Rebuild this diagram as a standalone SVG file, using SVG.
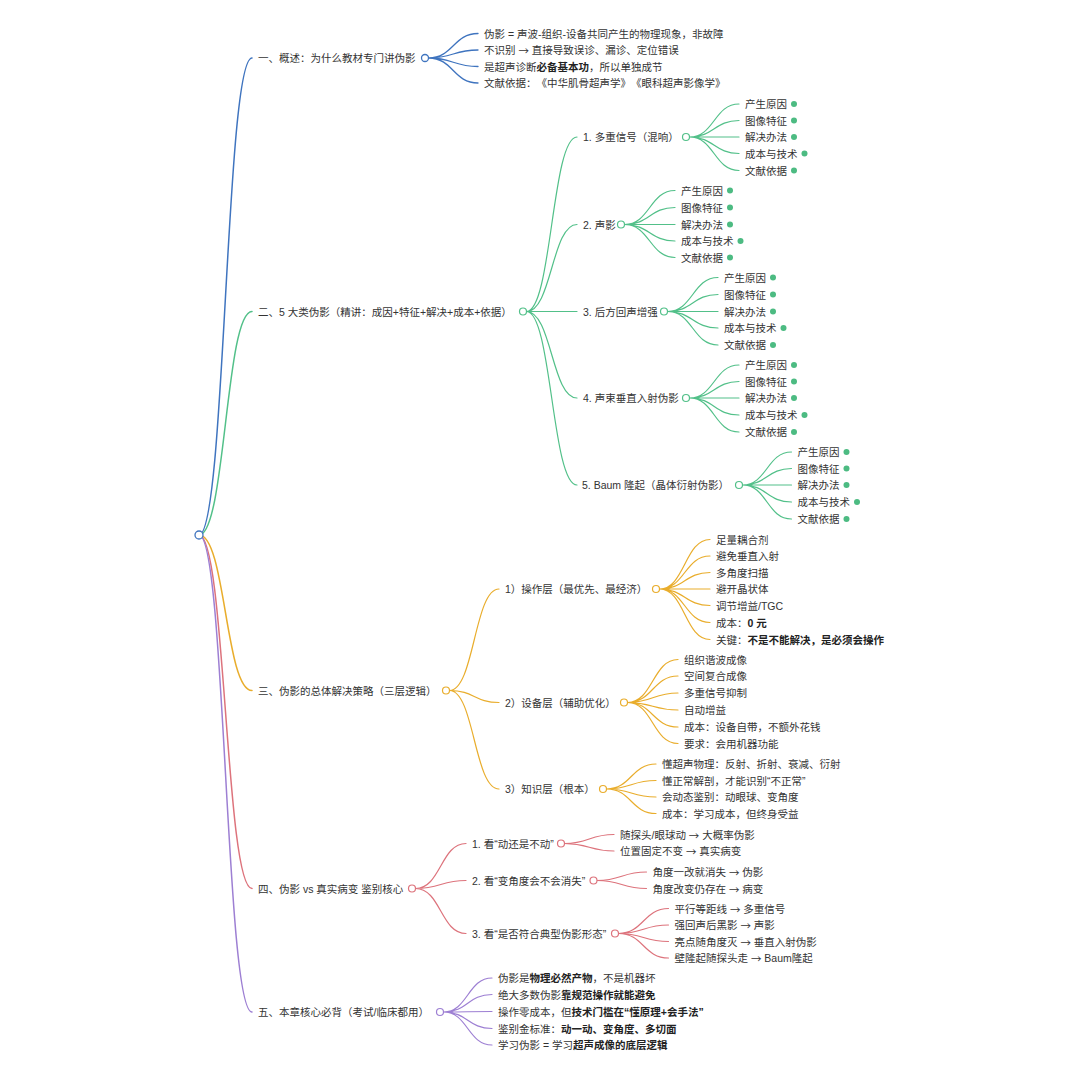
<svg xmlns="http://www.w3.org/2000/svg" width="1080" height="1080" viewBox="0 0 1080 1080">
<style>
text{font-family:"Liberation Sans","Noto Sans CJK SC",sans-serif;font-size:10.5px;fill:#333;dominant-baseline:central;text-spacing-trim:space-all}
.b{font-weight:bold;fill:#222}
.a{font-family:"Noto Sans CJK SC",sans-serif}
path{fill:none;stroke-linecap:round}
.lb{stroke:#3f74bf;stroke-width:1.3}
.lg{stroke:#52c089;stroke-width:1.2}
.lo{stroke:#e9ad2c;stroke-width:1.2}
.lr{stroke:#dd737c;stroke-width:1.2}
.lp{stroke:#9d7fd3;stroke-width:1.2}
.r0{stroke-width:1.5}
.cb{fill:#fff;stroke:#3f74bf;stroke-width:1.3}
.cg{fill:#fff;stroke:#52c089;stroke-width:1.2}
.co{fill:#fff;stroke:#e9ad2c;stroke-width:1.2}
.cr{fill:#fff;stroke:#dd737c;stroke-width:1.2}
.cp{fill:#fff;stroke:#9d7fd3;stroke-width:1.2}
.dg{fill:#4cbb82}
</style>
<rect width="1080" height="1080" fill="#fff"/>
<g id="connectors">
<path class="lb r0" d="M199 535C225.5 535 225.5 58 252 58"/>
<path class="lg r0" d="M199 535C225.5 535 225.5 311.5 252 311.5"/>
<path class="lo r0" d="M199 535C225.5 535 225.5 690.5 252 690.5"/>
<path class="lr r0" d="M199 535C225.5 535 225.5 888.5 252 888.5"/>
<path class="lp r0" d="M199 535C225.5 535 225.5 1012 252 1012"/>
<path class="lb" d="M428.5 58C453.25 58 453.25 33.5 478 33.5M428.5 58C453.25 58 453.25 50 478 50M428.5 58C453.25 58 453.25 66.5 478 66.5M428.5 58C453.25 58 453.25 83 478 83"/>
<path class="lg" d="M526.5 311.5C551.75 311.5 551.75 137 577 137M526.5 311.5C551.75 311.5 551.75 224.5 577 224.5M526.5 311.5C551.75 311.5 551.75 311.5 577 311.5M526.5 311.5C551.75 311.5 551.75 398 577 398M526.5 311.5C551.75 311.5 551.75 485 577 485"/>
<path class="lg" d="M689.5 137C714.25 137 714.25 104 739 104M689.5 137C714.25 137 714.25 120.5 739 120.5M689.5 137C714.25 137 714.25 137 739 137M689.5 137C714.25 137 714.25 153.5 739 153.5M689.5 137C714.25 137 714.25 170.5 739 170.5"/>
<path class="lg" d="M624.5 224.5C649.75 224.5 649.75 190.5 675 190.5M624.5 224.5C649.75 224.5 649.75 207.5 675 207.5M624.5 224.5C649.75 224.5 649.75 224.5 675 224.5M624.5 224.5C649.75 224.5 649.75 241 675 241M624.5 224.5C649.75 224.5 649.75 257.5 675 257.5"/>
<path class="lg" d="M667.5 311.5C692.75 311.5 692.75 277.5 718 277.5M667.5 311.5C692.75 311.5 692.75 294.5 718 294.5M667.5 311.5C692.75 311.5 692.75 311.5 718 311.5M667.5 311.5C692.75 311.5 692.75 328 718 328M667.5 311.5C692.75 311.5 692.75 345 718 345"/>
<path class="lg" d="M689.5 398C714.25 398 714.25 365 739 365M689.5 398C714.25 398 714.25 381.5 739 381.5M689.5 398C714.25 398 714.25 398 739 398M689.5 398C714.25 398 714.25 415 739 415M689.5 398C714.25 398 714.25 432 739 432"/>
<path class="lg" d="M742.5 485C767 485 767 452 791.5 452M742.5 485C767 485 767 468.5 791.5 468.5M742.5 485C767 485 767 485 791.5 485M742.5 485C767 485 767 502 791.5 502M742.5 485C767 485 767 519 791.5 519"/>
<path class="lo" d="M449.5 690.5C474.25 690.5 474.25 589 499 589M449.5 690.5C474.25 690.5 474.25 702.5 499 702.5M449.5 690.5C474.25 690.5 474.25 789 499 789"/>
<path class="lo" d="M659.5 589C684.75 589 684.75 539.5 710 539.5M659.5 589C684.75 589 684.75 556 710 556M659.5 589C684.75 589 684.75 572.5 710 572.5M659.5 589C684.75 589 684.75 589 710 589M659.5 589C684.75 589 684.75 605.5 710 605.5M659.5 589C684.75 589 684.75 622.5 710 622.5M659.5 589C684.75 589 684.75 639.5 710 639.5"/>
<path class="lo" d="M627.5 702.5C652.75 702.5 652.75 659.5 678 659.5M627.5 702.5C652.75 702.5 652.75 676 678 676M627.5 702.5C652.75 702.5 652.75 693 678 693M627.5 702.5C652.75 702.5 652.75 710 678 710M627.5 702.5C652.75 702.5 652.75 727 678 727M627.5 702.5C652.75 702.5 652.75 743.5 678 743.5"/>
<path class="lo" d="M606.5 789C631.25 789 631.25 764 656 764M606.5 789C631.25 789 631.25 780.5 656 780.5M606.5 789C631.25 789 631.25 797 656 797M606.5 789C631.25 789 631.25 813.5 656 813.5"/>
<path class="lr" d="M415.5 888.5C440.75 888.5 440.75 843.5 466 843.5M415.5 888.5C440.75 888.5 440.75 880.5 466 880.5M415.5 888.5C440.75 888.5 440.75 933.5 466 933.5"/>
<path class="lr" d="M564.5 843.5C589.25 843.5 589.25 834.5 614 834.5M564.5 843.5C589.25 843.5 589.25 851 614 851"/>
<path class="lr" d="M597 880.5C621.75 880.5 621.75 872 646.5 872M597 880.5C621.75 880.5 621.75 888.5 646.5 888.5"/>
<path class="lr" d="M618.5 933.5C643.5 933.5 643.5 908.5 668.5 908.5M618.5 933.5C643.5 933.5 643.5 925 668.5 925M618.5 933.5C643.5 933.5 643.5 941.5 668.5 941.5M618.5 933.5C643.5 933.5 643.5 958 668.5 958"/>
<path class="lp" d="M443.5 1012C467.75 1012 467.75 978 492 978M443.5 1012C467.75 1012 467.75 994.5 492 994.5M443.5 1012C467.75 1012 467.75 1011.5 492 1011.5M443.5 1012C467.75 1012 467.75 1028.5 492 1028.5M443.5 1012C467.75 1012 467.75 1045 492 1045"/>
</g>
<g id="root"><circle class="cb" cx="199" cy="535" r="4"/></g>
<g id="n1"><text x="258" y="58">一、概述：为什么教材专门讲伪影</text><circle class="cb" cx="425" cy="58" r="3.5"/></g>
<g id="n1-1"><text x="484" y="33.5">伪影 = 声波-组织-设备共同产生的物理现象，非故障</text></g>
<g id="n1-2"><text x="484" y="50">不识别 <tspan class="a">→</tspan> 直接导致误诊、漏诊、定位错误</text></g>
<g id="n1-3"><text x="484" y="66.5">是超声诊断<tspan class="b">必备基本功</tspan>，所以单独成节</text></g>
<g id="n1-4"><text x="484" y="83">文献依据：《中华肌骨超声学》《眼科超声影像学》</text></g>
<g id="n2"><text x="258" y="311.5">二、5 大类伪影（精讲：成因+特征+解决+成本+依据）</text><circle class="cg" cx="523" cy="311.5" r="3.5"/></g>
<g id="n2-1"><text x="583" y="137">1. 多重信号（混响）</text><circle class="cg" cx="686" cy="137" r="3.5"/></g>
<g id="n2-1-l"><text x="745" y="104">产生原因</text><circle class="dg" cx="794" cy="104" r="3"/><text x="745" y="120.5">图像特征</text><circle class="dg" cx="794" cy="120.5" r="3"/><text x="745" y="137">解决办法</text><circle class="dg" cx="794" cy="137" r="3"/><text x="745" y="153.5">成本与技术</text><circle class="dg" cx="804.5" cy="153.5" r="3"/><text x="745" y="170.5">文献依据</text><circle class="dg" cx="794" cy="170.5" r="3"/></g>
<g id="n2-2"><text x="583" y="224.5">2. 声影</text><circle class="cg" cx="621" cy="224.5" r="3.5"/></g>
<g id="n2-2-l"><text x="681" y="190.5">产生原因</text><circle class="dg" cx="730" cy="190.5" r="3"/><text x="681" y="207.5">图像特征</text><circle class="dg" cx="730" cy="207.5" r="3"/><text x="681" y="224.5">解决办法</text><circle class="dg" cx="730" cy="224.5" r="3"/><text x="681" y="241">成本与技术</text><circle class="dg" cx="740.5" cy="241" r="3"/><text x="681" y="257.5">文献依据</text><circle class="dg" cx="730" cy="257.5" r="3"/></g>
<g id="n2-3"><text x="583" y="311.5">3. 后方回声增强</text><circle class="cg" cx="664" cy="311.5" r="3.5"/></g>
<g id="n2-3-l"><text x="724" y="277.5">产生原因</text><circle class="dg" cx="773" cy="277.5" r="3"/><text x="724" y="294.5">图像特征</text><circle class="dg" cx="773" cy="294.5" r="3"/><text x="724" y="311.5">解决办法</text><circle class="dg" cx="773" cy="311.5" r="3"/><text x="724" y="328">成本与技术</text><circle class="dg" cx="783.5" cy="328" r="3"/><text x="724" y="345">文献依据</text><circle class="dg" cx="773" cy="345" r="3"/></g>
<g id="n2-4"><text x="583" y="398">4. 声束垂直入射伪影</text><circle class="cg" cx="686" cy="398" r="3.5"/></g>
<g id="n2-4-l"><text x="745" y="365">产生原因</text><circle class="dg" cx="794" cy="365" r="3"/><text x="745" y="381.5">图像特征</text><circle class="dg" cx="794" cy="381.5" r="3"/><text x="745" y="398">解决办法</text><circle class="dg" cx="794" cy="398" r="3"/><text x="745" y="415">成本与技术</text><circle class="dg" cx="804.5" cy="415" r="3"/><text x="745" y="432">文献依据</text><circle class="dg" cx="794" cy="432" r="3"/></g>
<g id="n2-5"><text x="582" y="485">5. Baum 隆起（晶体衍射伪影）</text><circle class="cg" cx="739" cy="485" r="3.5"/></g>
<g id="n2-5-l"><text x="797.5" y="452">产生原因</text><circle class="dg" cx="846.5" cy="452" r="3"/><text x="797.5" y="468.5">图像特征</text><circle class="dg" cx="846.5" cy="468.5" r="3"/><text x="797.5" y="485">解决办法</text><circle class="dg" cx="846.5" cy="485" r="3"/><text x="797.5" y="502">成本与技术</text><circle class="dg" cx="857" cy="502" r="3"/><text x="797.5" y="519">文献依据</text><circle class="dg" cx="846.5" cy="519" r="3"/></g>
<g id="n3"><text x="258" y="690.5">三、伪影的总体解决策略（三层逻辑）</text><circle class="co" cx="446" cy="690.5" r="3.5"/></g>
<g id="n3-1"><text x="505" y="589">1）操作层（最优先、最经济）</text><circle class="co" cx="656" cy="589" r="3.5"/></g>
<g id="n3-1-l"><text x="716" y="539.5">足量耦合剂</text><text x="716" y="556">避免垂直入射</text><text x="716" y="572.5">多角度扫描</text><text x="716" y="589">避开晶状体</text><text x="716" y="605.5">调节增益/TGC</text><text x="716" y="622.5">成本：<tspan class="b">0 元</tspan></text><text x="716" y="639.5">关键：<tspan class="b">不是不能解决，是必须会操作</tspan></text></g>
<g id="n3-2"><text x="505" y="702.5">2）设备层（辅助优化）</text><circle class="co" cx="624" cy="702.5" r="3.5"/></g>
<g id="n3-2-l"><text x="684" y="659.5">组织谐波成像</text><text x="684" y="676">空间复合成像</text><text x="684" y="693">多重信号抑制</text><text x="684" y="710">自动增益</text><text x="684" y="727">成本：设备自带，不额外花钱</text><text x="684" y="743.5">要求：会用机器功能</text></g>
<g id="n3-3"><text x="505" y="789">3）知识层（根本）</text><circle class="co" cx="603" cy="789" r="3.5"/></g>
<g id="n3-3-l"><text x="662" y="764">懂超声物理：反射、折射、衰减、衍射</text><text x="662" y="780.5">懂正常解剖，才能识别“不正常”</text><text x="662" y="797">会动态鉴别：动眼球、变角度</text><text x="662" y="813.5">成本：学习成本，但终身受益</text></g>
<g id="n4"><text x="258" y="888.5">四、伪影 vs 真实病变 鉴别核心</text><circle class="cr" cx="412" cy="888.5" r="3.5"/></g>
<g id="n4-1"><text x="472" y="843.5">1. 看“动还是不动”</text><circle class="cr" cx="561" cy="843.5" r="3.5"/></g>
<g id="n4-1-l"><text x="620" y="834.5">随探头/眼球动 <tspan class="a">→</tspan> 大概率伪影</text><text x="620" y="851">位置固定不变 <tspan class="a">→</tspan> 真实病变</text></g>
<g id="n4-2"><text x="472" y="880.5">2. 看“变角度会不会消失”</text><circle class="cr" cx="593.5" cy="880.5" r="3.5"/></g>
<g id="n4-2-l"><text x="652.5" y="872">角度一改就消失 <tspan class="a">→</tspan> 伪影</text><text x="652.5" y="888.5">角度改变仍存在 <tspan class="a">→</tspan> 病变</text></g>
<g id="n4-3"><text x="472" y="933.5">3. 看“是否符合典型伪影形态”</text><circle class="cr" cx="615" cy="933.5" r="3.5"/></g>
<g id="n4-3-l"><text x="674.5" y="908.5">平行等距线 <tspan class="a">→</tspan> 多重信号</text><text x="674.5" y="925">强回声后黑影 <tspan class="a">→</tspan> 声影</text><text x="674.5" y="941.5">亮点随角度灭 <tspan class="a">→</tspan> 垂直入射伪影</text><text x="674.5" y="958">壁隆起随探头走 <tspan class="a">→</tspan> Baum隆起</text></g>
<g id="n5"><text x="258" y="1012">五、本章核心必背（考试/临床都用）</text><circle class="cp" cx="440" cy="1012" r="3.5"/></g>
<g id="n5-l"><text x="498" y="978">伪影是<tspan class="b">物理必然产物</tspan>，不是机器坏</text><text x="498" y="994.5">绝大多数伪影<tspan class="b">靠规范操作就能避免</tspan></text><text x="498" y="1011.5">操作零成本，但<tspan class="b">技术门槛在“懂原理+会手法”</tspan></text><text x="498" y="1028.5">鉴别金标准：<tspan class="b">动一动、变角度、多切面</tspan></text><text x="498" y="1045">学习伪影 = 学习<tspan class="b">超声成像的底层逻辑</tspan></text></g>
</svg>
